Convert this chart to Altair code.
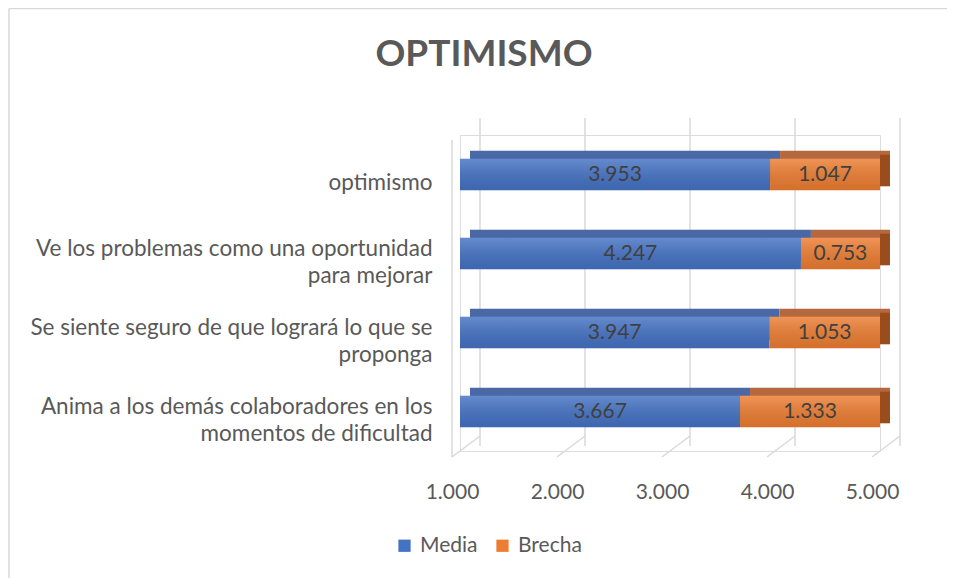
import altair as alt
import pandas as pd

# ---- data ----
items = [
    "optimismo",
    "Ve los problemas como una oportunidad|para mejorar",
    "Se siente seguro de que logrará lo que se|proponga",
    "Anima a los demás colaboradores en los|momentos de dificultad",
]
media = [3.953, 4.247, 3.947, 3.667]
brecha = [1.047, 0.753, 1.053, 1.333]
series = ["Media", "Brecha"]
colors = ["#4472C4", "#ED7D31"]
ticks = [1, 2, 3, 4, 5]
title_text = "OPTIMISMO"

rows = []
for i, it in enumerate(items):
    rows.append({"item": it, "serie": series[0], "valor": media[i], "orden": 0})
    rows.append({"item": it, "serie": series[1], "valor": brecha[i], "orden": 1})
df = pd.DataFrame(rows)
tick_df = pd.DataFrame({"t": ticks})
one_df = pd.DataFrame({"a": [0]})

FONT = "Lato"
GRID = "#d9d9d9"
XMIN, XMAX = 1, 5

xscale = alt.Scale(domain=[XMIN, XMAX], nice=False, zero=False)
yscale = alt.Scale(paddingInner=0.6, paddingOuter=0.3)

x_axis = alt.Axis(
    values=ticks,
    format=".3f",
    title=None,
    grid=False,
    ticks=False,
    domain=False,
    labelFlush=False,
    labelOverlap=False,
    labelOffset=-8,
    labelPadding=30,
    labelFontSize=21,
    labelColor="#595959",
    labelFont=FONT,
)

base = (
    alt.Chart(df)
    .transform_stack(
        stack="valor",
        groupby=["item"],
        as_=["x0", "x1"],
        sort=[alt.SortField("orden", order="ascending")],
    )
    .transform_calculate(
        xs=f"max(datum.x0, {XMIN})",
        xm=f"(max(datum.x0, {XMIN}) + datum.x1) / 2",
        topcolor="datum.serie == 'Media' ? '#4a67a6' : '#b5683e'",
    )
)

y_enc = alt.Y(
    "item:N",
    sort=items,
    scale=yscale,
    axis=alt.Axis(
        title=None,
        labelExpr="split(datum.label, '|')",
        labelAlign="right",
        labelFontSize=22.5,
        labelColor="#595959",
        labelPadding=28,
        labelOffset={"condition": {"test": "indexof(datum.value, '|') >= 0", "value": -5}, "value": 8},
        labelLineHeight=27,
        labelLimit=0,
        ticks=False,
        domain=False,
        labelFont=FONT,
    ),
)
x_enc = alt.X("xs:Q", scale=xscale, axis=x_axis)

# back gridlines (3D back wall)
grid_back = (
    alt.Chart(tick_df)
    .mark_rule(color=GRID, strokeWidth=1.5, xOffset=20)
    .encode(x=alt.X("t:Q", scale=xscale, axis=x_axis), y=alt.value(-17), y2=alt.value(311))
)
# floor diagonals
grid_floor = (
    alt.Chart(tick_df)
    .mark_rule(color=GRID, strokeWidth=1.5, xOffset=-8, x2Offset=20)
    .encode(x=alt.X("t:Q", scale=xscale, axis=x_axis), x2="t:Q", y=alt.value(322), y2=alt.value(301))
)
# left front wall edge
wall_left = (
    alt.Chart(tick_df)
    .transform_filter(f"datum.t == {XMIN}")
    .mark_rule(color=GRID, strokeWidth=1.5, xOffset=-8)
    .encode(x=alt.X("t:Q", scale=xscale, axis=x_axis), y=alt.value(5), y2=alt.value(322))
)
# chart area border (top and left)
border_top = (
    alt.Chart(one_df)
    .mark_rule(color=GRID, strokeWidth=1.5)
    .encode(x=alt.value(-451), x2=alt.value(487), y=alt.value(-126.5), y2=alt.value(-126.5))
)
border_left = (
    alt.Chart(one_df)
    .mark_rule(color=GRID, strokeWidth=1.5)
    .encode(x=alt.value(-451), x2=alt.value(-451), y=alt.value(-126.5), y2=alt.value(443))
)
# chart title
title = (
    alt.Chart(one_df)
    .mark_text(text=title_text, fontSize=37, font=FONT, fontWeight="bold", color="#595959",
               align="center", baseline="middle")
    .encode(x=alt.value(24), y=alt.value(-80))
)

# 3D top faces (shifted back rectangles)
bars_back = base.mark_bar(xOffset=10, x2Offset=10, yOffset=-8).encode(
    x=x_enc, x2="x1:Q", y=y_enc, fill=alt.Fill("topcolor:N", scale=None)
)
# right side face of the end segment
side = (
    base.transform_filter("datum.serie == 'Brecha'")
    .mark_bar(x2Offset=10, yOffset=-4, color="#9b4c1c")
    .encode(x=alt.X("x1:Q", scale=xscale, axis=x_axis), x2="x1:Q", y=y_enc)
)
# front faces
bars_front = base.mark_bar().encode(
    x=x_enc,
    x2="x1:Q",
    y=y_enc,
    color=alt.Color(
        "serie:N",
        scale=alt.Scale(domain=series, range=colors),
        legend=alt.Legend(
            orient="none",
            legendX=-66,
            legendY=400,
            direction="horizontal",
            title=None,
            symbolType="square",
            symbolSize=150,
            symbolStrokeWidth=0,
            labelFontSize=21,
            labelColor="#595959",
            labelFont=FONT,
            columnPadding=14,
            labelOffset=5,
        ),
    ),
)
shade = base.mark_bar(
    fill=alt.Gradient(
        gradient="linear",
        stops=[
            alt.GradientStop(color="rgba(255,255,255,0.18)", offset=0),
            alt.GradientStop(color="rgba(0,0,0,0.10)", offset=1),
        ],
        x1=0, x2=0, y1=0, y2=1,
    )
).encode(x=x_enc, x2="x1:Q", y=y_enc)

labels = base.mark_text(fontSize=21, color="#404040", font=FONT).encode(
    x=alt.X("xm:Q", scale=xscale, axis=x_axis),
    y=y_enc,
    text=alt.Text("valor:Q", format=".3f"),
)

chart = (
    alt.layer(border_top, border_left, title, grid_back, grid_floor, wall_left,
              bars_back, side, bars_front, shade, labels)
    .properties(
        width=420,
        height=316,
        autosize=alt.AutoSizeParams(type="none"),
        padding={"left": 452, "top": 127, "right": 67, "bottom": 127},
    )
    .configure_view(stroke=None)
    .configure(font=FONT)
)

chart.save("out.html", embed_options={"renderer": "svg", "actions": False})
